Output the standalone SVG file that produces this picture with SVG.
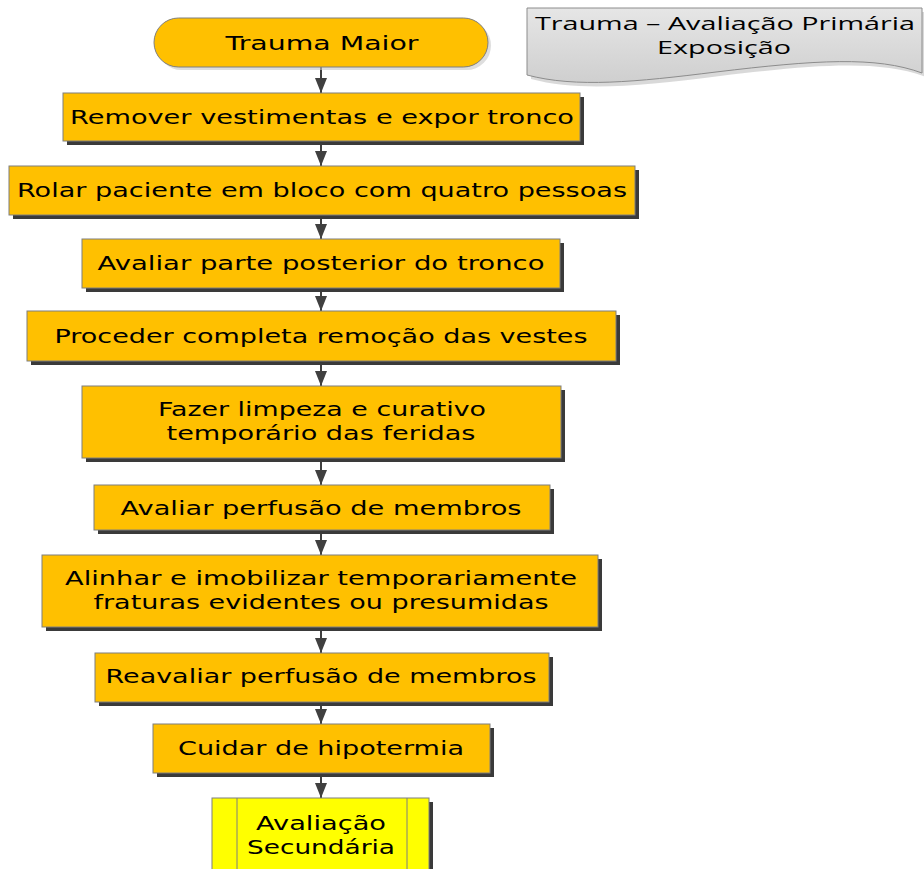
<svg xmlns="http://www.w3.org/2000/svg" width="924" height="869" viewBox="0 0 924 869">
  <style>
    .box { fill: #FFC000; stroke: #7F7F7F; stroke-width: 1; }
    .shadow { fill: #3A3A3A; }
    .lbl { font-family: "DejaVu Sans", "Verdana", sans-serif; font-size: 19px; fill: #000; text-anchor: middle; }
    .ttl { font-family: "Open Sans", "Liberation Sans", sans-serif; font-size: 19px; fill: #000; text-anchor: middle; }
    .conn { stroke: #404040; stroke-width: 2; fill: none; marker-end: url(#arrow); }
  </style>
  <defs>
    <marker id="arrow" markerWidth="15" markerHeight="12" refX="15" refY="6" orient="auto" markerUnits="userSpaceOnUse">
      <path d="M0,0 L15,6 L0,12 Z" fill="#404040"/>
    </marker>
    <linearGradient id="docFill" x1="0" y1="0" x2="0" y2="1">
      <stop offset="0" stop-color="#E6E6E6"/>
      <stop offset="1" stop-color="#CFCFCF"/>
    </linearGradient>
  </defs>
  <rect width="924" height="869" fill="#FFFFFF"/>

  <!-- title banner -->
  <g id="title">
    <path d="M531,12 H926 V77 C880,60 820,64 720,76 C640,86 580,92 531,79 Z" fill="#BFBFBF" opacity="0.6"/>
    <path d="M527,8 H922 V73 C876,56 816,60 716,72 C636,82 576,88 527,75 Z" fill="url(#docFill)" stroke="#8C8C8C" stroke-width="1"/>
    <text class="ttl" x="725" y="30" textLength="380" lengthAdjust="spacingAndGlyphs">Trauma – Avaliação Primária</text>
    <text class="ttl" x="724" y="54" textLength="134" lengthAdjust="spacingAndGlyphs">Exposição</text>
  </g>

  <!-- connectors -->
  <g id="connectors">
    <line class="conn" x1="321" y1="67" x2="321" y2="93"/>
    <line class="conn" x1="321" y1="141" x2="321" y2="166"/>
    <line class="conn" x1="321" y1="215" x2="321" y2="239"/>
    <line class="conn" x1="321" y1="288" x2="321" y2="311"/>
    <line class="conn" x1="321" y1="361" x2="321" y2="386"/>
    <line class="conn" x1="321" y1="458" x2="321" y2="485"/>
    <line class="conn" x1="321" y1="530" x2="321" y2="555"/>
    <line class="conn" x1="321" y1="627" x2="321" y2="653"/>
    <line class="conn" x1="321" y1="702" x2="321" y2="724"/>
    <line class="conn" x1="321" y1="773" x2="321" y2="798"/>
  </g>

  <g id="trauma-maior">
    <rect x="157" y="21" width="334" height="49" rx="24.5" fill="#C8C8C8" opacity="0.6"/>
    <rect class="box" x="154" y="18" width="334" height="49" rx="24.5"/>
    <text class="lbl" x="322" y="50" textLength="193" lengthAdjust="spacingAndGlyphs">Trauma Maior</text>
  </g>

  <g id="remover-vestimentas">
    <rect class="shadow" x="67" y="97" width="517" height="48"/>
    <rect class="box" x="63" y="93" width="517" height="48"/>
    <text class="lbl" x="322" y="124" textLength="504" lengthAdjust="spacingAndGlyphs">Remover vestimentas e expor tronco</text>
  </g>

  <g id="rolar-paciente">
    <rect class="shadow" x="13" y="170" width="626" height="49"/>
    <rect class="box" x="9" y="166" width="626" height="49"/>
    <text class="lbl" x="322" y="197" textLength="610" lengthAdjust="spacingAndGlyphs">Rolar paciente em bloco com quatro pessoas</text>
  </g>

  <g id="avaliar-posterior">
    <rect class="shadow" x="86" y="243" width="478" height="49"/>
    <rect class="box" x="82" y="239" width="478" height="49"/>
    <text class="lbl" x="321" y="270" textLength="447" lengthAdjust="spacingAndGlyphs">Avaliar parte posterior do tronco</text>
  </g>

  <g id="remocao-vestes">
    <rect class="shadow" x="31" y="315" width="589" height="50"/>
    <rect class="box" x="27" y="311" width="589" height="50"/>
    <text class="lbl" x="321" y="343" textLength="533" lengthAdjust="spacingAndGlyphs">Proceder completa remoção das vestes</text>
  </g>

  <g id="limpeza-curativo">
    <rect class="shadow" x="86" y="390" width="479" height="72"/>
    <rect class="box" x="82" y="386" width="479" height="72"/>
    <text class="lbl" x="322" y="416" textLength="328" lengthAdjust="spacingAndGlyphs">Fazer limpeza e curativo</text>
    <text class="lbl" x="321" y="440" textLength="309" lengthAdjust="spacingAndGlyphs">temporário das feridas</text>
  </g>

  <g id="avaliar-perfusao">
    <rect class="shadow" x="98" y="489" width="456" height="45"/>
    <rect class="box" x="94" y="485" width="456" height="45"/>
    <text class="lbl" x="321" y="515" textLength="401" lengthAdjust="spacingAndGlyphs">Avaliar perfusão de membros</text>
  </g>

  <g id="alinhar-imobilizar">
    <rect class="shadow" x="46" y="559" width="556" height="72"/>
    <rect class="box" x="42" y="555" width="556" height="72"/>
    <text class="lbl" x="321" y="585" textLength="512" lengthAdjust="spacingAndGlyphs">Alinhar e imobilizar temporariamente</text>
    <text class="lbl" x="321" y="609" textLength="455" lengthAdjust="spacingAndGlyphs">fraturas evidentes ou presumidas</text>
  </g>

  <g id="reavaliar-perfusao">
    <rect class="shadow" x="99" y="657" width="454" height="49"/>
    <rect class="box" x="95" y="653" width="454" height="49"/>
    <text class="lbl" x="321" y="683" textLength="431" lengthAdjust="spacingAndGlyphs">Reavaliar perfusão de membros</text>
  </g>

  <g id="hipotermia">
    <rect class="shadow" x="157" y="728" width="337" height="49"/>
    <rect class="box" x="153" y="724" width="337" height="49"/>
    <text class="lbl" x="321" y="755" textLength="286" lengthAdjust="spacingAndGlyphs">Cuidar de hipotermia</text>
  </g>

  <g id="avaliacao-secundaria">
    <rect class="shadow" x="216" y="802" width="217" height="75"/>
    <rect x="212" y="798" width="217" height="75" fill="#FFFF00" stroke="#7F7F7F" stroke-width="1"/>
    <line x1="237" y1="798" x2="237" y2="873" stroke="#7F7F7F" stroke-width="1"/>
    <line x1="407" y1="798" x2="407" y2="873" stroke="#7F7F7F" stroke-width="1"/>
    <text class="lbl" x="321" y="830" textLength="130" lengthAdjust="spacingAndGlyphs">Avaliação</text>
    <text class="lbl" x="321" y="854" textLength="148" lengthAdjust="spacingAndGlyphs">Secundária</text>
  </g>
</svg>
